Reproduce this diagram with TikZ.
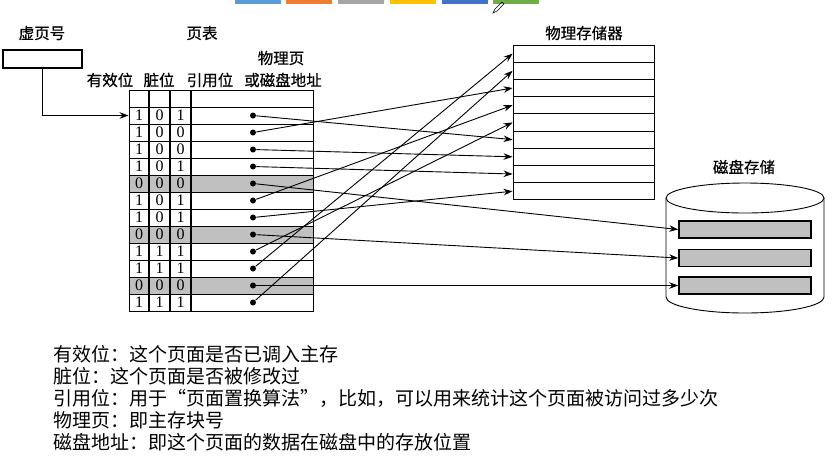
\documentclass[tikz,border=0pt]{standalone}
\usepackage{fontspec}
\setmainfont{Liberation Serif}
\newfontfamily\cjk{Noto Sans CJK SC}
\newfontfamily\cjkh[FakeBold=0.5]{Noto Sans CJK SC}
\usetikzlibrary{arrows.meta}

\definecolor{tabgray}{RGB}{192,192,192}
\definecolor{stripA}{RGB}{91,155,213}
\definecolor{stripB}{RGB}{237,125,49}
\definecolor{stripC}{RGB}{165,165,165}
\definecolor{stripD}{RGB}{255,192,0}
\definecolor{stripE}{RGB}{68,114,196}
\definecolor{stripF}{RGB}{112,173,71}

\begin{document}
\begin{tikzpicture}[
      x=1pt, y=-1pt,
      line width=0.9pt, >={Stealth[length=9pt,width=6.5pt]},
      lbl/.style={font=\cjkh\fontsize{15.5pt}{15.5pt}\selectfont, inner sep=0pt},
      note/.style={font=\cjk\fontsize{19pt}{19pt}\selectfont, inner sep=0pt, anchor=west},
      bit/.style={font=\fontsize{16pt}{16pt}\selectfont, inner sep=0pt},
      rowbox/.style={draw, minimum width=184pt, minimum height=17pt, inner sep=0pt},
      membox/.style={draw, fill=white, minimum width=141pt, minimum height=17.2pt, inner sep=0pt},
      diskbar/.style={draw, line width=1.5pt, fill=tabgray, minimum width=132pt, minimum height=17pt, inner sep=0pt},
      dot/.style={circle, fill=black, inner sep=0pt, minimum size=6pt}
      ]
      \useasboundingbox (0,0) rectangle (834,459);

      % toolbar strip at the top
      \foreach \xa/\col in {235/stripA, 286/stripB, 338/stripC, 390/stripD, 442/stripE, 493/stripF}
        \fill[\col] (\xa,0) rectangle ++(46,3.5);
      \draw[line width=0.5pt] (493,13) -- (495,9) -- (502,2) -- (504,4) -- (497,11) -- cycle;

      % titles
      \node[lbl] (vptitle) at (42,33) {虚页号};
      \node[lbl] (pttitle) at (202,33) {页表};
      \node[lbl] (h1) at (110,80) {有效位};
      \node[lbl] (h2) at (159,80) {脏位};
      \node[lbl] (h3) at (210,80) {引用位};
      \node[lbl] (h4) at (283,80) {或磁盘地址};
      \node[lbl] (h5) at (281,58) {物理页};
      \node[lbl] (memtitle) at (584,33) {物理存储器};
      \node[lbl] (disktitle) at (744,167) {磁盘存储};

      % virtual page number register
      \node[draw, line width=1.3pt, minimum width=79pt, minimum height=18pt] (vp) at (42.5,59) {};

      % page table
      \node[rowbox] (t0) at (221,98.5) {};
      \foreach \i/\a/\b/\c in {1/1/0/1, 2/1/0/0, 3/1/0/0, 4/1/0/1, 5/0/0/0, 6/1/0/1,
                               7/1/0/1, 8/0/0/0, 9/1/1/1, 10/1/1/1, 11/0/0/0, 12/1/1/1}{
        \pgfmathsetmacro\yc{107+(\i-0.5)*17}
        \def\rowfill{white}
        \ifnum\a=0 \def\rowfill{tabgray}\fi
        \node[rowbox, fill=\rowfill] (t\i) at (221,\yc) {};
        \node[bit] (a\i) at (139,\yc) {\a};
        \node[bit] (b\i) at (159.5,\yc) {\b};
        \node[bit] (c\i) at (180.5,\yc) {\c};
        \node[dot] (d\i) at (253,\yc) {};
      }
      \foreach \xc in {149, 170, 191}
        \draw[line width=1.3pt] (\xc,90) -- (\xc,311);

      % physical memory
      \foreach \j in {1,...,9}
        \node[membox] (p\j) at (583.5,{45+(\j-0.5)*17.2}) {};

      % disk storage
      \draw[fill=white] (666,198) -- (666,297) arc[start angle=180, end angle=0, x radius=79, y radius=16]
        -- (824,198);
      \draw[fill=white] (745,198) ellipse[x radius=79, y radius=15];
      \node[diskbar] (k1) at (745,229.5) {};
      \node[diskbar] (k2) at (745,258) {};
      \node[diskbar] (k3) at (745,285.5) {};

      % Connect the nodes
      \draw[->] (vp.south) |- (t1.west);
      \draw[->] (d1) -- (p6.west);
      \draw[->] (d2) -- (p3.west);
      \draw[->] (d3) -- (p7.west);
      \draw[->] (d4) -- (p8.west);
      \draw[->] (d6) -- (p4.west);
      \draw[->] (d7) -- (p9.west);
      \draw[->] (d9) -- (p5.west);
      \draw[->] (d10) -- (p1.west);
      \draw[->] (d12) -- (p2.west);
      \draw[->] (d5) -- (k1.west);
      \draw[->] (d8) -- (k2.west);
      \draw[->] (d11) -- (k3.west);

      % notes
      \node[note] (n1) at (53,354) {有效位：这个页面是否已调入主存};
      \node[note] (n2) at (53,376) {脏位：这个页面是否被修改过};
      \node[note] (n3) at (53,398) {引用位：用于“页面置换算法”，比如，可以用来统计这个页面被访问过多少次};
      \node[note] (n4) at (53,420) {物理页：即主存块号};
      \node[note] (n5) at (53,442) {磁盘地址：即这个页面的数据在磁盘中的存放位置};

\end{tikzpicture}
\end{document}
